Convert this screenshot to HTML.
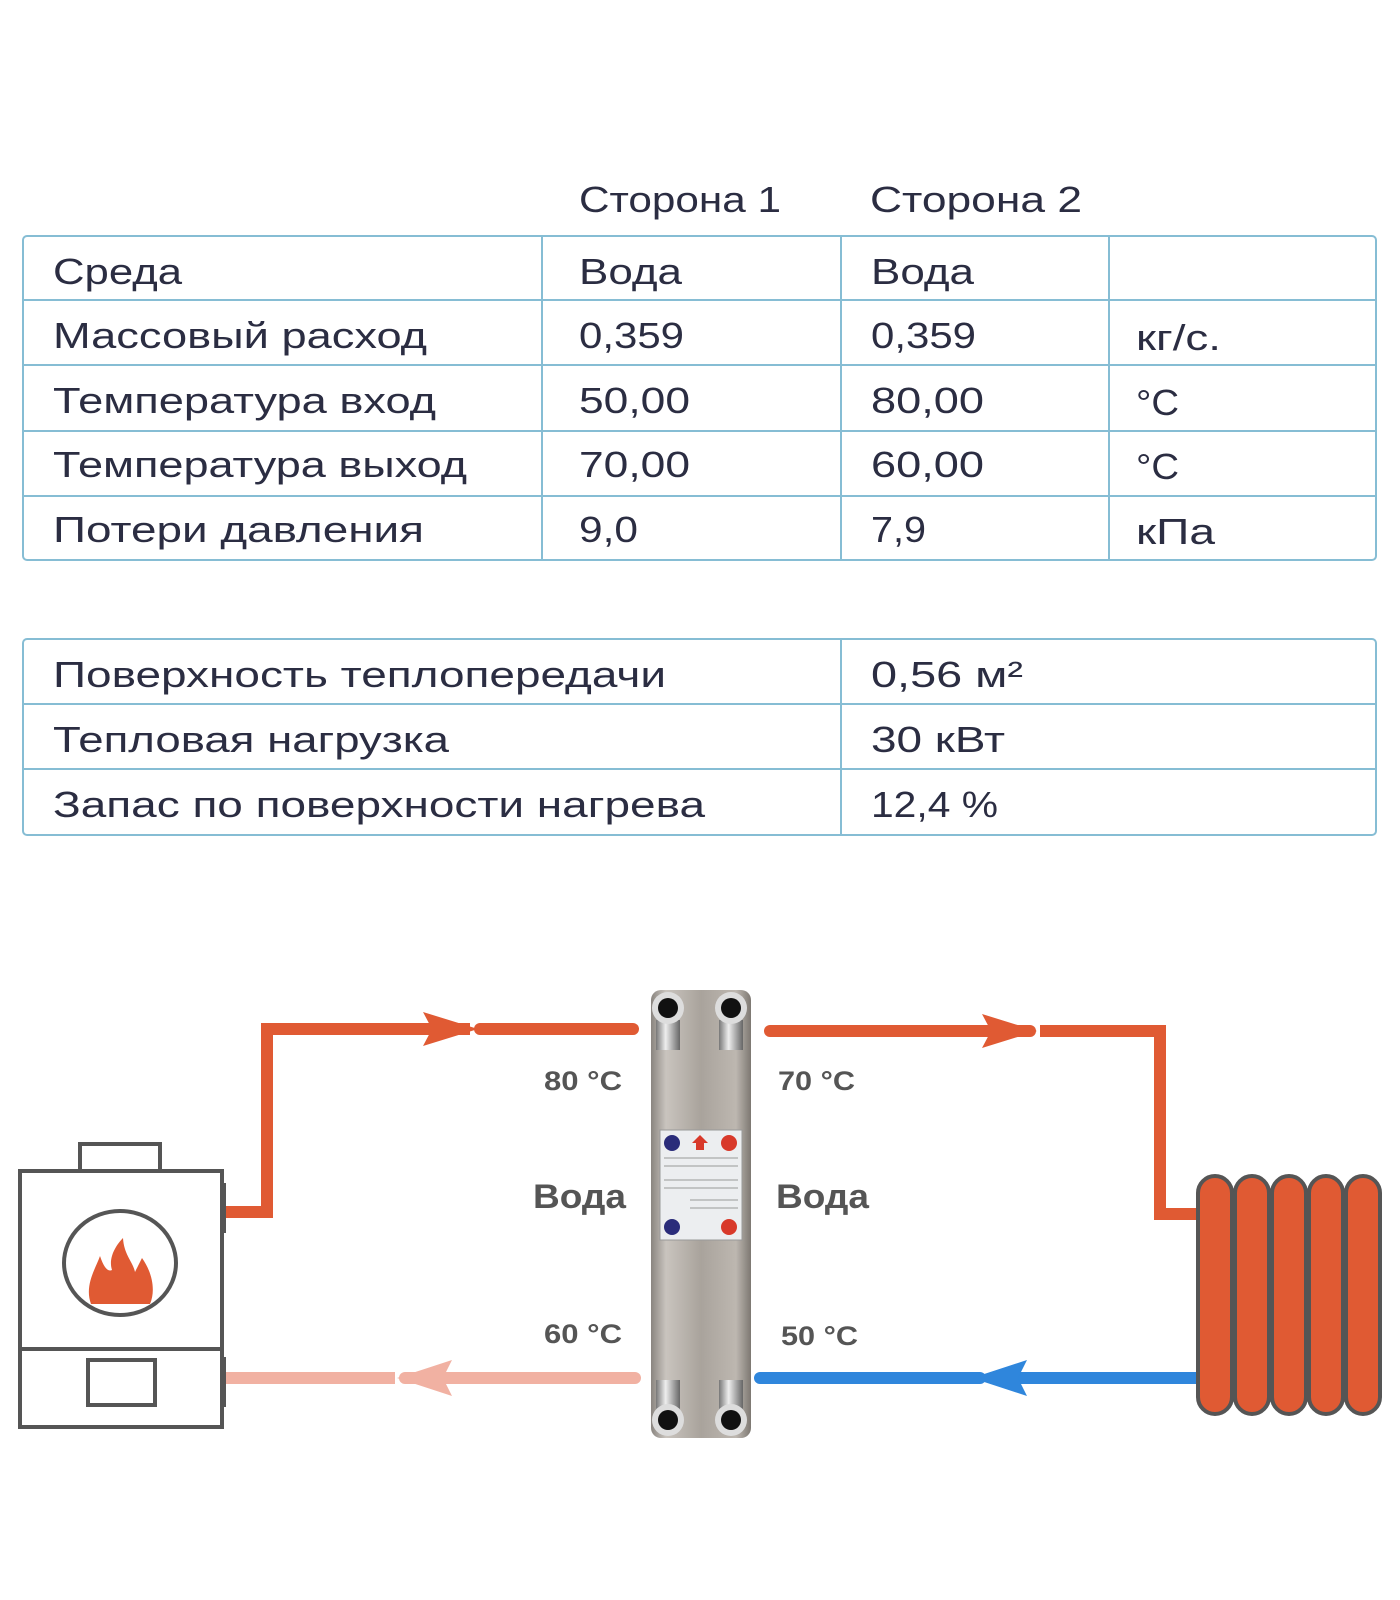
<!DOCTYPE html>
<html><head><meta charset="utf-8"><style>html,body{margin:0;padding:0;background:#fff}svg{display:block}</style></head>
<body>
<svg width="1400" height="1600" viewBox="0 0 1400 1600" xmlns="http://www.w3.org/2000/svg" font-family="Liberation Sans, DejaVu Sans, sans-serif">
<defs>
<linearGradient id="metal" x1="0" x2="1" y1="0" y2="0">
<stop offset="0" stop-color="#8a8580"/><stop offset="0.15" stop-color="#c9c4be"/><stop offset="0.5" stop-color="#a9a39c"/><stop offset="0.85" stop-color="#bdb7b0"/><stop offset="1" stop-color="#7d7872"/>
</linearGradient>
<linearGradient id="nut" x1="0" x2="1"><stop offset="0" stop-color="#777"/><stop offset="0.4" stop-color="#eee"/><stop offset="1" stop-color="#666"/></linearGradient>
</defs>
<!-- headers -->
<g fill="#2b2d42" font-size="36">
<text x="579" y="212" textLength="202" lengthAdjust="spacingAndGlyphs">Сторона 1</text>
<text x="870" y="212" textLength="212" lengthAdjust="spacingAndGlyphs">Сторона 2</text>
</g>
<!-- table 1 -->
<g fill="none" stroke="#86bdd4" stroke-width="2">
<rect x="23" y="236" width="1353" height="324" rx="4"/>
<line x1="23" y1="300" x2="1376" y2="300"/><line x1="23" y1="365" x2="1376" y2="365"/>
<line x1="23" y1="431" x2="1376" y2="431"/><line x1="23" y1="496" x2="1376" y2="496"/>
<line x1="542" y1="236" x2="542" y2="560"/><line x1="841" y1="236" x2="841" y2="560"/><line x1="1109" y1="236" x2="1109" y2="560"/>
<rect x="23" y="639" width="1353" height="196" rx="4"/>
<line x1="23" y1="704" x2="1376" y2="704"/><line x1="23" y1="769" x2="1376" y2="769"/>
<line x1="841" y1="639" x2="841" y2="835"/>
</g>
<g fill="#2b2d42" font-size="36">
<text x="53" y="284" textLength="129" lengthAdjust="spacingAndGlyphs">Среда</text>
<text x="579" y="284" textLength="103" lengthAdjust="spacingAndGlyphs">Вода</text>
<text x="871" y="284" textLength="103" lengthAdjust="spacingAndGlyphs">Вода</text>
<text x="53" y="348" textLength="374" lengthAdjust="spacingAndGlyphs">Массовый расход</text>
<text x="579" y="348" textLength="105" lengthAdjust="spacingAndGlyphs">0,359</text>
<text x="871" y="348" textLength="105" lengthAdjust="spacingAndGlyphs">0,359</text>
<text x="1136" y="350" textLength="85" lengthAdjust="spacingAndGlyphs">кг/с.</text>
<text x="53" y="413" textLength="383" lengthAdjust="spacingAndGlyphs">Температура вход</text>
<text x="579" y="413" textLength="111" lengthAdjust="spacingAndGlyphs">50,00</text>
<text x="871" y="413" textLength="113" lengthAdjust="spacingAndGlyphs">80,00</text>
<text x="1136" y="415" textLength="43" lengthAdjust="spacingAndGlyphs">°C</text>
<text x="53" y="477" textLength="414" lengthAdjust="spacingAndGlyphs">Температура выход</text>
<text x="579" y="477" textLength="111" lengthAdjust="spacingAndGlyphs">70,00</text>
<text x="871" y="477" textLength="113" lengthAdjust="spacingAndGlyphs">60,00</text>
<text x="1136" y="479" textLength="43" lengthAdjust="spacingAndGlyphs">°C</text>
<text x="53" y="542" textLength="371" lengthAdjust="spacingAndGlyphs">Потери давления</text>
<text x="579" y="542" textLength="59" lengthAdjust="spacingAndGlyphs">9,0</text>
<text x="871" y="542" textLength="55" lengthAdjust="spacingAndGlyphs">7,9</text>
<text x="1136" y="544" textLength="79" lengthAdjust="spacingAndGlyphs">кПа</text>
<text x="53" y="687" textLength="613" lengthAdjust="spacingAndGlyphs">Поверхность теплопередачи</text>
<text x="871" y="687" textLength="152" lengthAdjust="spacingAndGlyphs">0,56  м²</text>
<text x="53" y="752" textLength="396" lengthAdjust="spacingAndGlyphs">Тепловая нагрузка</text>
<text x="871" y="752" textLength="134" lengthAdjust="spacingAndGlyphs">30 кВт</text>
<text x="53" y="817" textLength="652" lengthAdjust="spacingAndGlyphs">Запас по поверхности нагрева</text>
<text x="871" y="817" textLength="127" lengthAdjust="spacingAndGlyphs">12,4  %</text>
</g>
<!-- pipes -->
<g fill="none" stroke-width="12" stroke-linejoin="miter">
<polyline points="222,1212 267,1212 267,1029 470,1029" stroke="#e05a33"/>
<line x1="480" y1="1029" x2="633" y2="1029" stroke="#e05a33" stroke-linecap="round"/>
<line x1="770" y1="1031" x2="1030" y2="1031" stroke="#e05a33" stroke-linecap="round"/>
<polyline points="1040,1031 1160,1031 1160,1214 1200,1214" stroke="#e05a33"/>
<line x1="222" y1="1378" x2="395" y2="1378" stroke="#f1b1a2"/>
<line x1="405" y1="1378" x2="635" y2="1378" stroke="#f1b1a2" stroke-linecap="round"/>
<line x1="760" y1="1378" x2="980" y2="1378" stroke="#2f86dc" stroke-linecap="round"/>
<line x1="990" y1="1378" x2="1200" y2="1378" stroke="#2f86dc"/>
</g>
<!-- arrowheads -->
<polygon points="423,1012 478,1029 423,1046 432,1029" fill="#e05a33"/>
<polygon points="982,1014 1037,1031 982,1048 991,1031" fill="#e05a33"/>
<polygon points="452,1360 397,1378 452,1396 443,1378" fill="#f1b1a2"/>
<polygon points="1027,1360 972,1378 1027,1396 1018,1378" fill="#2f86dc"/>
<!-- boiler -->
<g fill="#fff" stroke="#555" stroke-width="4">
<rect x="80" y="1144" width="80" height="27"/>
<rect x="20" y="1171" width="202" height="256"/>
<line x1="20" y1="1349" x2="222" y2="1349"/>
<rect x="88" y="1360" width="67" height="45"/>
<ellipse cx="120" cy="1263" rx="56" ry="52"/>
</g>
<rect x="220" y="1183" width="6" height="50" fill="#555"/>
<rect x="220" y="1357" width="6" height="50" fill="#555"/>
<path d="M91,1304 C84,1285 96,1268 100,1256 C104,1268 108,1272 112,1270 C108,1258 116,1245 123,1238 C124,1255 133,1262 135,1272 C138,1266 140,1262 142,1258 C152,1272 156,1290 150,1304 Z" fill="#e05a33"/>
<!-- radiator -->
<g fill="#e05a33" stroke="#555" stroke-width="4">
<rect x="1198" y="1176" width="34" height="238" rx="17"/>
<rect x="1235" y="1176" width="34" height="238" rx="17"/>
<rect x="1272" y="1176" width="34" height="238" rx="17"/>
<rect x="1309" y="1176" width="34" height="238" rx="17"/>
<rect x="1346" y="1176" width="34" height="238" rx="17"/>
</g>
<!-- heat exchanger -->
<rect x="651" y="990" width="100" height="448" rx="10" fill="url(#metal)"/>
<rect x="656" y="1020" width="24" height="30" fill="url(#nut)"/><rect x="719" y="1020" width="24" height="30" fill="url(#nut)"/>
<rect x="656" y="1380" width="24" height="30" fill="url(#nut)"/><rect x="719" y="1380" width="24" height="30" fill="url(#nut)"/>
<circle cx="668" cy="1008" r="16" fill="#ddd"/><circle cx="668" cy="1008" r="10" fill="#111"/>
<circle cx="731" cy="1008" r="16" fill="#ddd"/><circle cx="731" cy="1008" r="10" fill="#111"/>
<circle cx="668" cy="1420" r="16" fill="#ddd"/><circle cx="668" cy="1420" r="10" fill="#111"/>
<circle cx="731" cy="1420" r="16" fill="#ddd"/><circle cx="731" cy="1420" r="10" fill="#111"/>
<rect x="660" y="1130" width="82" height="110" fill="#eceef0" stroke="#999" stroke-width="1"/>
<circle cx="672" cy="1143" r="8" fill="#2a2c7a"/><circle cx="729" cy="1143" r="8" fill="#d8392a"/>
<circle cx="672" cy="1227" r="8" fill="#2a2c7a"/><circle cx="729" cy="1227" r="8" fill="#d8392a"/>
<polygon points="700,1135 708,1143 704,1143 704,1150 696,1150 696,1143 692,1143" fill="#d8392a"/>
<g stroke="#999" stroke-width="1"><line x1="664" y1="1158" x2="738" y2="1158"/><line x1="664" y1="1166" x2="738" y2="1166"/><line x1="664" y1="1180" x2="738" y2="1180"/><line x1="664" y1="1188" x2="738" y2="1188"/><line x1="690" y1="1200" x2="738" y2="1200"/><line x1="690" y1="1208" x2="738" y2="1208"/></g>
<!-- diagram labels -->
<g fill="#555" font-weight="bold">
<text x="544" y="1090" font-size="27" textLength="78" lengthAdjust="spacingAndGlyphs">80 °C</text>
<text x="778" y="1090" font-size="27" textLength="77" lengthAdjust="spacingAndGlyphs">70 °C</text>
<text x="544" y="1343" font-size="27" textLength="78" lengthAdjust="spacingAndGlyphs">60 °C</text>
<text x="781" y="1345" font-size="27" textLength="77" lengthAdjust="spacingAndGlyphs">50 °C</text>
<text x="533" y="1208" font-size="34" textLength="93" lengthAdjust="spacingAndGlyphs">Вода</text>
<text x="776" y="1208" font-size="34" textLength="93" lengthAdjust="spacingAndGlyphs">Вода</text>
</g>
</svg>
</body></html>
